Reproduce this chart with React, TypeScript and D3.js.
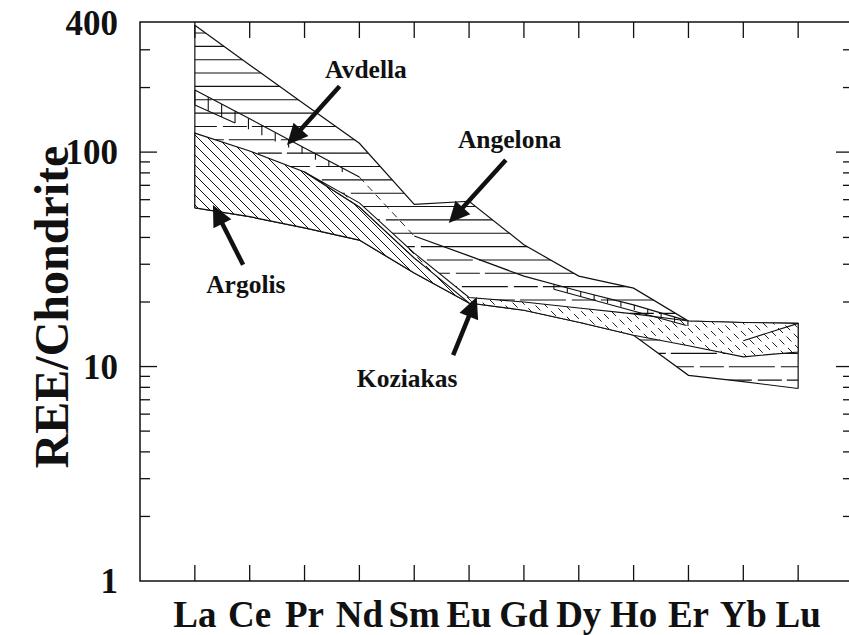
import React from 'react';
import * as d3 from 'd3';

// Rare earth elements along the x axis
const categories = ['La', 'Ce', 'Pr', 'Nd', 'Sm', 'Eu', 'Gd', 'Dy', 'Ho', 'Er', 'Yb', 'Lu'];

// y axis (chondrite-normalised, log scale)
const yTickLabels = [1, 10, 100, 400];
const majorTicks = [10, 100];
const minorTicks = [2, 3, 4, 5, 6, 7, 8, 9, 20, 30, 40, 50, 60, 70, 80, 90, 200, 300];

// Outer envelope of the horizontally hatched fields, La..Lu
const upperEnvelope = [390, 255, 167, 110, 57, 59, 37, 26.4, 23.2, 16.3, 16.05, 15.9];
const lowerEnvelope = [55, 50, 44.3, 38.9, 27.3, 19.8, 18.3, 16.1, 14.0, 9.1, 8.5, 7.9];

// Avdella boundary (ticked line), La..Er
const avdellaLine = [195, 143, 104.5, 76.5, 40.6, 32.8, 26.4, 22.5, 19.4, 16.3];

// Argolis field, La..Eu
const argolisUpper = [122.7, 101.2, 80.8, 55.5, 32.1, 20.4];
const argolisLower = [55, 50, 44.3, 38.9, 27.3, 19.8];

// Koziakas field, Pr..Lu
const koziakasStart = 2;
const koziakasUpper = [80.8, 58.0, 33.8, 21.0, 20.0, 18.75, 17.6, 16.3, 16.05, 15.9];
const koziakasLower = [80.8, 55.5, 32.1, 19.8, 18.3, 16.1, 14.0, 12.5, 11.1, 11.7];

// Single Koziakas sample crossing the field, Yb..Lu
const koziakasInner = [13.2, 15.9];

// Field labels with their arrows: [index, value] for label, arrow tail, arrow tip
const labelNames = ['Avdella', 'Angelona', 'Argolis', 'Koziakas'];
const labelPos = [[3.12, 221], [5.74, 104.5], [0.93, 22.0], [3.87, 8.03]];
const arrowTail = [[2.64, 203], [5.67, 91.9], [0.88, 29.8], [4.71, 11.3]];
const arrowTip = [[1.68, 108], [4.63, 46.7], [0.33, 56.7], [5.14, 21.1]];

const SERIF = '"Liberation Serif", "Times New Roman", Times, serif';

export default function App() {
  const W = 849;
  const H = 635;
  const left = 140;
  const right = 853;
  const top = 22;
  const bottom = 581;

  const x = d3.scaleLinear().domain([-1, 12]).range([left, right]);
  const y = d3.scaleLog().domain([1, 400]).range([bottom, 23]);
  const idx = categories.map((_, i) => i);

  const pts = (vals: number[], start = 0): [number, number][] =>
    vals.map((v, i) => [x(start + i), y(v)] as [number, number]);
  const line = d3.line();
  const closed = (p: [number, number][]) => (line(p) || '') + 'Z';

  const upperPts = pts(upperEnvelope);
  const lowerPts = pts(lowerEnvelope);
  const avdPts = pts(avdellaLine);

  // field above the Avdella line
  const fieldA1 = closed([...upperPts.slice(0, 10), ...avdPts.slice().reverse()]);
  // field below the Avdella line
  const fieldA2 = closed([...avdPts, ...upperPts.slice(10), ...lowerPts.slice().reverse()]);
  const argolis = closed([...pts(argolisUpper), ...pts(argolisLower).reverse()]);
  const koziakas = closed([
    ...pts(koziakasUpper, koziakasStart),
    ...pts(koziakasLower, koziakasStart).reverse(),
  ]);

  // hatch lines
  const hStep = 13.35;
  const hRows = d3.range(0, 30).map((k) => 6.3 + k * hStep).filter((v) => v > 15 && v < 400);
  const diag = d3.range(-700, 900, 10);

  // interpolate along the Avdella line in pixel space
  const avdY = (px: number) => {
    for (let i = 0; i < avdPts.length - 1; i++) {
      const [x0, y0] = avdPts[i];
      const [x1, y1] = avdPts[i + 1];
      if (px >= x0 && px <= x1) return y0 + ((px - x0) / (x1 - x0)) * (y1 - y0);
    }
    return avdPts[avdPts.length - 1][1];
  };
  const rungStep = 13.4;
  const leftRungs = d3.range(x(0), x(3) - 8, rungStep).map((px, k, arr) => {
    const len = 15 - (11 * k) / (arr.length - 1);
    return { px, y0: avdY(px), len };
  });
  const rightRungs = d3.range(x(6) + 30, x(9), rungStep).map((px) => ({ px, y0: avdY(px) }));
  const ladderLowerLeft = leftRungs.slice(0, 4).map((r) => [r.px, r.y0 + r.len] as [number, number]);
  const ladderLowerRight = [x(6) + 30, x(9) - 2].map((px) => [px, avdY(px) + 5] as [number, number]);

  const arrow = (t: number[], h: number[]) => {
    const [x0, y0] = [x(t[0]), y(t[1])];
    const [x1, y1] = [x(h[0]), y(h[1])];
    const dx = x1 - x0;
    const dy = y1 - y0;
    const L = Math.hypot(dx, dy);
    const ux = dx / L;
    const uy = dy / L;
    const hl = 21;
    const hw = 10;
    const bx = x1 - ux * hl;
    const by = y1 - uy * hl;
    const head = [
      [x1, y1],
      [bx - uy * hw, by + ux * hw],
      [bx + uy * hw, by - ux * hw],
    ];
    return { x0, y0, bx: bx + ux * 2, by: by + uy * 2, head: head.map((p) => p.join(',')).join(' ') };
  };

  return (
    <svg
      width={W}
      height={H}
      viewBox={`0 0 ${W} ${H}`}
      style={{ position: 'absolute', left: 0, top: 0, background: '#fff' }}
    >
      <defs>
        <clipPath id="clipA1"><path d={fieldA1} /></clipPath>
        <clipPath id="clipA2"><path d={fieldA2} /></clipPath>
        <clipPath id="clipArg"><path d={argolis} /></clipPath>
        <clipPath id="clipKoz"><path d={koziakas} /></clipPath>
      </defs>
      <rect x={0} y={0} width={W} height={H} fill="#fff" />

      {/* horizontally hatched fields */}
      <g clipPath="url(#clipA1)" stroke="#111" strokeWidth={1.1}>
        {hRows.map((hy, k) => (
          <line key={k} x1={x(0) - 2} x2={x(11) + 2} y1={hy} y2={hy} />
        ))}
      </g>
      <g clipPath="url(#clipA2)" stroke="#111" strokeWidth={1.1}>
        {hRows.map((hy, k) => (
          <line
            key={k}
            x1={x(0) - 2}
            x2={x(11) + 2}
            y1={hy}
            y2={hy}
            strokeDasharray="46 6 24 5"
            strokeDashoffset={k * 23}
          />
        ))}
      </g>
      <g fill="none" stroke="#111" strokeWidth={1.2}>
        <path d={line(upperPts) || ''} />
        <path d={line(lowerPts) || ''} />
        <line x1={x(0)} x2={x(0)} y1={y(upperEnvelope[0])} y2={y(lowerEnvelope[0])} />
        <line x1={x(11)} x2={x(11)} y1={y(upperEnvelope[11])} y2={y(lowerEnvelope[11])} />
        <path d={line(avdPts.slice(0, 4)) || ''} />
        <path d={line(avdPts.slice(3, 5)) || ''} strokeDasharray="7 5" strokeWidth={0.9} />
        <path d={line(avdPts.slice(4)) || ''} />
      </g>

      {/* Argolis field */}
      <path d={argolis} fill="#fff" />
      <g clipPath="url(#clipArg)" stroke="#111" strokeWidth={1}>
        {diag.map((c) => (
          <line key={c} x1={c} y1={0} x2={c + 700} y2={700} />
        ))}
      </g>
      <path d={argolis} fill="none" stroke="#111" strokeWidth={1.2} />

      {/* Koziakas field */}
      <path d={koziakas} fill="#fff" />
      <g clipPath="url(#clipKoz)" stroke="#222" strokeWidth={1}>
        {diag.map((c, k) => (
          <line
            key={c}
            x1={c}
            y1={0}
            x2={c + 700}
            y2={700}
            strokeDasharray="7 5"
            strokeDashoffset={(k * 4) % 12}
          />
        ))}
      </g>
      <path d={koziakas} fill="none" stroke="#111" strokeWidth={1.1} />
      <path d={line(pts(koziakasInner, 10)) || ''} fill="none" stroke="#111" strokeWidth={1.1} />

      {/* ticked Avdella boundary */}
      <g stroke="#111" strokeWidth={1.1} fill="none">
        {leftRungs.map((r, k) => (
          <line key={k} x1={r.px} x2={r.px} y1={r.y0} y2={r.y0 + r.len} />
        ))}
        <path d={line(ladderLowerLeft) || ''} />
        {rightRungs.map((r, k) => (
          <line key={k} x1={r.px} x2={r.px} y1={r.y0} y2={r.y0 + 5} />
        ))}
        <path d={line(ladderLowerRight) || ''} />
      </g>

      {/* field labels and arrows */}
      {labelNames.map((name, i) => {
        const a = arrow(arrowTail[i], arrowTip[i]);
        return (
          <g key={name}>
            <line x1={a.x0} y1={a.y0} x2={a.bx} y2={a.by} stroke="#111" strokeWidth={4.5} />
            <polygon points={a.head} fill="#111" />
            <text
              x={x(labelPos[i][0])}
              y={y(labelPos[i][1])}
              textAnchor="middle"
              fontFamily={SERIF}
              fontWeight="bold"
              fontSize={25.5}
              fill="#111"
            >
              {name}
            </text>
          </g>
        );
      })}

      {/* frame and ticks */}
      <rect x={left} y={top} width={right - left} height={bottom - top} fill="none" stroke="#111" strokeWidth={1.5} />
      <g stroke="#111" strokeWidth={1.3}>
        {idx.map((i) => (
          <g key={i}>
            <line x1={x(i)} x2={x(i)} y1={top} y2={top + 16} />
            <line x1={x(i)} x2={x(i)} y1={bottom} y2={bottom - 16} />
          </g>
        ))}
        {majorTicks.map((v) => (
          <g key={v}>
            <line x1={left} x2={left + 17} y1={y(v)} y2={y(v)} />
            <line x1={right} x2={right - 17} y1={y(v)} y2={y(v)} />
          </g>
        ))}
        {minorTicks.map((v) => (
          <g key={v}>
            <line x1={left} x2={left + 10} y1={y(v)} y2={y(v)} />
            <line x1={right} x2={right - 10} y1={y(v)} y2={y(v)} />
          </g>
        ))}
      </g>

      {/* axis labels */}
      <g fontFamily={SERIF} fontWeight="bold" fill="#111">
        {yTickLabels.map((v) => (
          <text key={v} x={118} y={y(v) + 12} textAnchor="end" fontSize={35}>
            {v}
          </text>
        ))}
        {categories.map((c, i) => (
          <text key={c} x={x(i)} y={627} textAnchor="middle" fontSize={37}>
            {c}
          </text>
        ))}
        <text transform="translate(68,307) rotate(-90)" textAnchor="middle" fontSize={48}>
          REE/Chondrite
        </text>
      </g>
    </svg>
  );
}
